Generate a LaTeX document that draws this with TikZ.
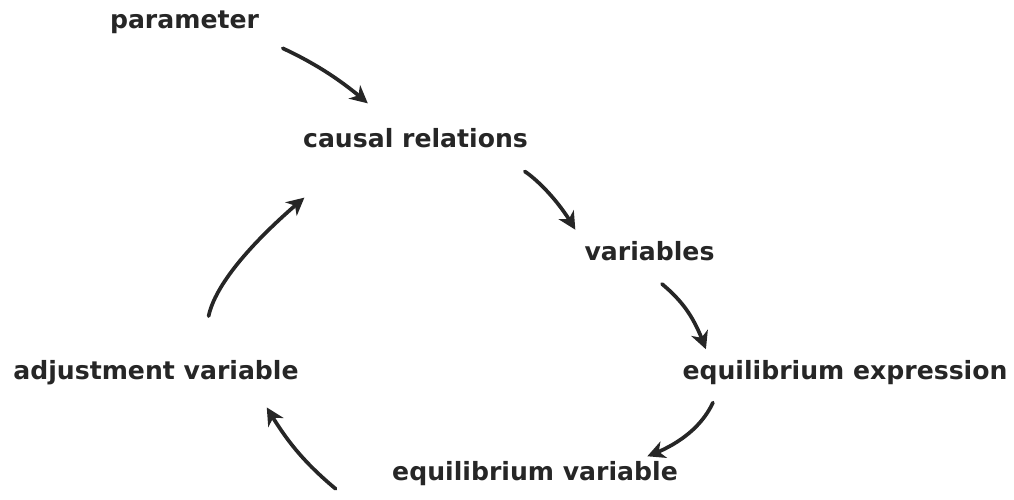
\documentclass[tikz,border=0pt]{standalone}
\usepackage{fontspec}
\setmainfont{DejaVu Sans}
\usetikzlibrary{arrows.meta,bending}
\definecolor{inkGray}{HTML}{262626}

\begin{document}
\begin{tikzpicture}[
      lbl/.style={anchor=base,inner sep=3pt,text=inkGray,
                  font=\fontsize{14.3}{17}\selectfont\bfseries},
      arw/.style={-{Stealth[length=10pt,width=10pt,inset=3pt]},
                  inkGray,line width=2.1pt,line cap=round}]
    \useasboundingbox (0,0) rectangle (20.28,10);

    \node[lbl] (param)  at (3.69,9.42)  {parameter};
    \node[lbl] (causal) at (8.31,7.04)  {causal relations};
    \node[lbl] (vars)   at (12.99,4.78) {variables};
    \node[lbl] (adj)    at (3.12,2.40)  {adjustment variable};
    \node[lbl] (eqexpr) at (16.90,2.40) {equilibrium expression};
    \node[lbl] (eqvar)  at (10.70,0.38) {equilibrium variable};

    % the cycle, clockwise
    \draw[arw,shorten <=0.4cm,shorten >=0.6cm]
      (param.south east) to[out=-25,in=135] (causal.150);
    \draw[arw,shorten <=0.7cm,shorten >=0.15cm]
      (causal.-11) to[out=-30,in=118] (vars.north west);
    \draw[arw]
      ([xshift=0.25cm,yshift=-0.34cm]vars.south)
        to[out=-40,in=110] ([xshift=0.58cm,yshift=0.12cm]eqexpr.north west);
    \draw[arw,shorten <=0.26cm]
      (eqexpr.188) to[out=-115,in=20] (eqvar.9);
    \draw[arw,shorten >=0.38cm]
      ([xshift=-1.02cm,yshift=0.06cm]eqvar.south west)
        to[out=140,in=-61] (adj.-10);
    \draw[arw,shorten <=0.8cm,shorten >=1.46cm]
      (adj.22) to[out=78,in=-141] (causal.-165);
  \end{tikzpicture}
\end{document}
